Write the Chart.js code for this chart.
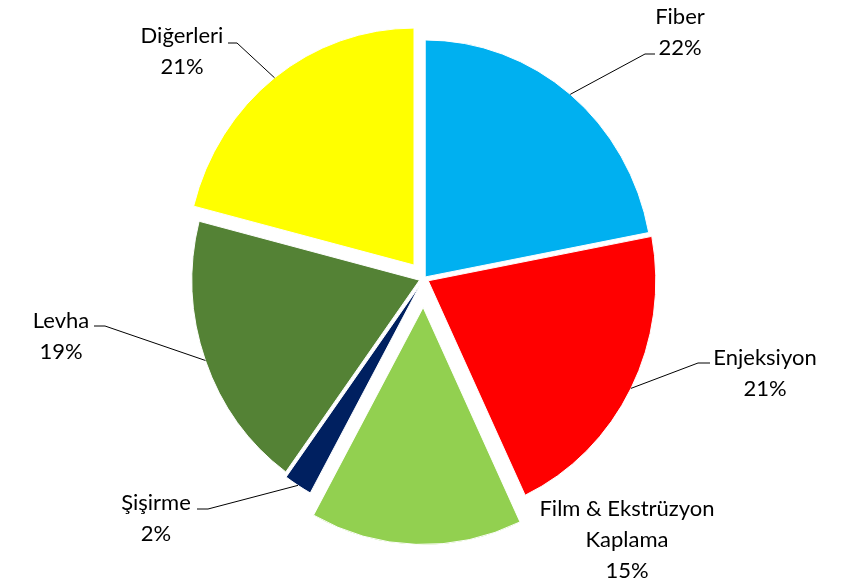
<!DOCTYPE html>
<html>
<head>
<meta charset="utf-8">
<script src="https://cdn.jsdelivr.net/npm/chart.js@4.4.1/dist/chart.umd.min.js"></script>
<style>
  html, body { margin: 0; padding: 0; background: #fff; }
  #wrap { width: 856px; height: 587px; }
</style>
</head>
<body>
<div id="wrap"><canvas id="pieChart"></canvas></div>
<script>
// data
const categories = ['Fiber', 'Enjeksiyon', 'Film & Ekstrüzyon Kaplama', 'Şişirme', 'Levha', 'Diğerleri'];
const shares = [22, 21, 15, 2, 19, 21];
const labelLines = [['Fiber'], ['Enjeksiyon'], ['Film & Ekstrüzyon', 'Kaplama'], ['Şişirme'], ['Levha'], ['Diğerleri']];

const sliceColors = ['#00B0F0', '#FF0000', '#92D050', '#002060', '#548235', '#FFFF00'];
// how far each slice is pulled out of the pie (px)
const explode = [2, 5, 29, 8, 5, 17];
// the original pie is a little squeezed sideways
const squeezeX = 0.96;

// label text position + leader tick (x0 -> x1 at y), null = no leader
const labelSpots = [
    { x: 680, y: 17, tick: { x0: 655, x1: 645, y: 54 } },
    { x: 765, y: 358, tick: { x0: 710, x1: 698, y: 363 } },
    { x: 627, y: 509, tick: null },
    { x: 156, y: 503, tick: { x0: 197, x1: 208, y: 509 } },
    { x: 61, y: 321, tick: { x0: 94, x1: 105, y: 326 } },
    { x: 182, y: 36, tick: { x0: 228, x1: 237, y: 43 } }
];
const lineGap = 31;

// Exploded slices: shift the whole arc, keep its radius
const baseArcDraw = Chart.ArcElement.prototype.draw;
Chart.ArcElement.prototype.draw = function (ctx) {
    const d = explode[this.$slice] || 0;
    const mid = (this.startAngle + this.endAngle) / 2;
    ctx.save();
    ctx.translate(this.x, this.y);
    ctx.scale(squeezeX, 1);
    ctx.translate(-this.x, -this.y);
    ctx.translate(Math.cos(mid) * d, Math.sin(mid) * d);
    baseArcDraw.call(this, ctx);
    ctx.restore();
};

const sliceLabels = {
    id: 'sliceLabels',
    afterUpdate(chart) {
        chart.getDatasetMeta(0).data.forEach((el, i) => { el.$slice = i; });
    },
    afterDatasetsDraw(chart) {
        const ctx = chart.ctx;
        const arcs = chart.getDatasetMeta(0).data;
        ctx.save();
        ctx.font = '22px Lato';
        ctx.fillStyle = '#000';
        ctx.textAlign = 'center';
        ctx.textBaseline = 'middle';
        ctx.strokeStyle = '#000';
        ctx.lineWidth = 1;
        arcs.forEach((arc, i) => {
            const spot = labelSpots[i];
            const lines = labelLines[i].concat([shares[i] + '%']);
            lines.forEach((t, k) => ctx.fillText(t, spot.x, spot.y + k * lineGap));

            if (spot.tick) {
                const mid = (arc.startAngle + arc.endAngle) / 2;
                const r = arc.outerRadius + explode[i];
                const ex = arc.x + Math.cos(mid) * r * squeezeX;
                const ey = arc.y + Math.sin(mid) * r;
                ctx.beginPath();
                ctx.moveTo(spot.tick.x0, spot.tick.y);
                ctx.lineTo(spot.tick.x1, spot.tick.y);
                ctx.lineTo(ex, ey);
                ctx.stroke();
            }
        });
        ctx.restore();
    }
};

const ctx = document.getElementById('pieChart').getContext('2d');

const chart = new Chart(ctx, {
    type: 'pie',
    data: {
        labels: categories,
        datasets: [{
            data: shares,
            backgroundColor: sliceColors,
            borderColor: '#fff',
            borderWidth: 1
        }]
    },
    options: {
        responsive: true,
        maintainAspectRatio: false,
        animation: false,
        radius: 237,
        layout: {
            padding: { left: 0, right: 8, top: 0, bottom: 30 }
        },
        plugins: {
            legend: { display: false },
            tooltip: { enabled: false }
        }
    },
    plugins: [sliceLabels]
});
</script>
</body>
</html>
